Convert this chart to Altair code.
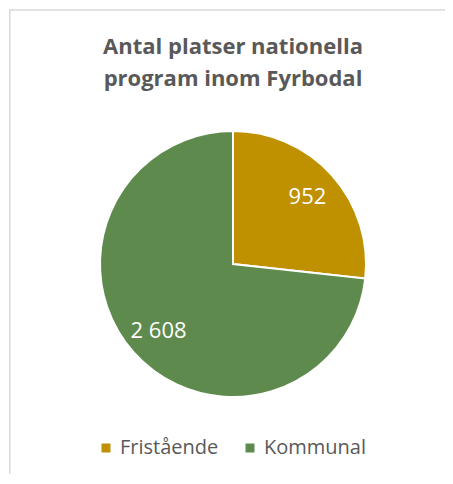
import altair as alt
import pandas as pd

categories = ["Fristående", "Kommunal"]
values = [952, 2608]
labels = ["952", "2 608"]
colors = ["#BF9000", "#5F8A4E"]

df = pd.DataFrame({"kategori": categories, "antal": values, "etikett": labels,
                   "ordning": [0, 1]})

W, H = 437, 466
CX, CY, R = 224, 256, 133
FONT = "Open Sans"

base = alt.Chart(df).encode(
    theta=alt.Theta("antal:Q", stack=True),
    order=alt.Order("ordning:Q"),
)

pie = base.mark_arc(outerRadius=R, stroke="white", strokeWidth=2).encode(
    x=alt.value(CX), y=alt.value(CY),
    color=alt.Color(
        "kategori:N",
        scale=alt.Scale(domain=categories, range=colors),
        legend=alt.Legend(
            title=None, orient="none", direction="horizontal",
            legendX=87, legendY=430, symbolType="square", symbolSize=81,
            symbolStrokeWidth=0, labelFontSize=20, labelFont=FONT,
            labelColor="#595959", columnPadding=21, labelOffset=4,
            padding=0,
        ),
    ),
)

text = base.mark_text(radius=100, fontSize=22, font=FONT, color="white").encode(
    x=alt.value(CX), y=alt.value(CY), text="etikett:N"
)

title = alt.Chart(pd.DataFrame({"t": [0]})).mark_text(
    text=["Antal platser nationella", "program inom Fyrbodal"],
    font=FONT, fontWeight="bold", fontSize=22, color="#595959",
    baseline="alphabetic", align="center", lineHeight=32,
).encode(x=alt.value(CX), y=alt.value(46))

border = alt.Chart(pd.DataFrame({"t": [0]})).mark_rule(
    color="#D9D9D9", strokeWidth=1.5
)
top_line = border.encode(x=alt.value(0), x2=alt.value(W), y=alt.value(2))
left_line = border.encode(x=alt.value(0.75), y=alt.value(2), y2=alt.value(H))

chart = alt.layer(top_line, left_line, pie, text, title).properties(
    width=W, height=H,
    autosize=alt.AutoSizeParams(type="fit", contains="padding"),
    padding=0,
).configure_view(stroke=None)

chart.save("out.html", embed_options={"renderer": "svg", "actions": False})
